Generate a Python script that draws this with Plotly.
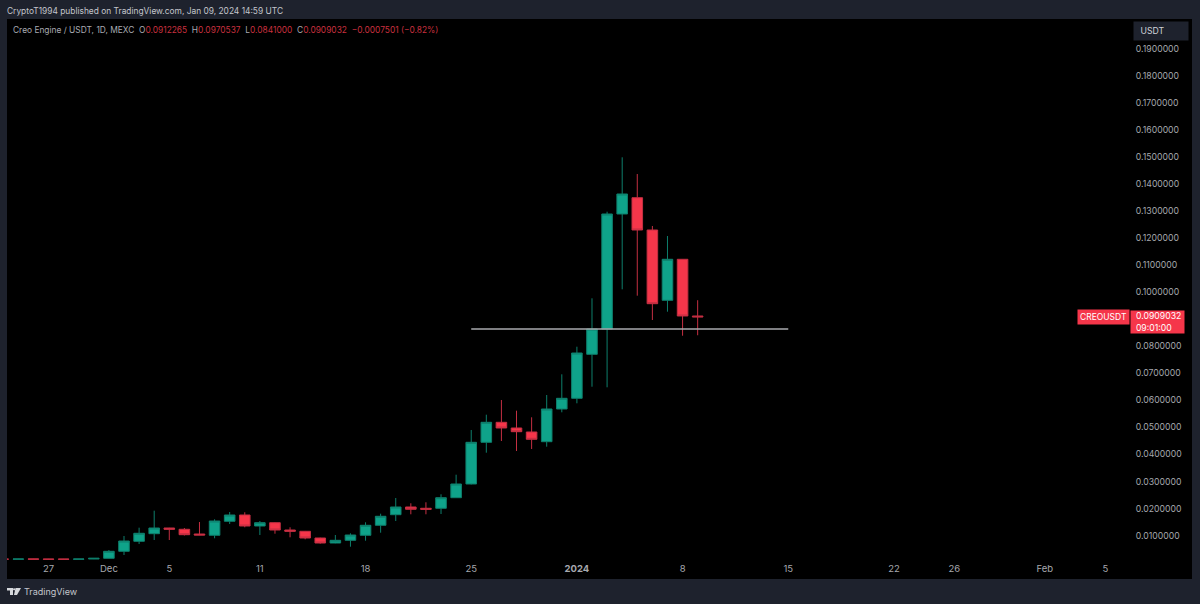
import plotly.graph_objects as go
import pandas as pd

# daily candles
dates = pd.date_range("2023-11-24", "2024-01-09", freq="D")
opens = [.00128, .00125, .00135, .00130, .00130, .00122, .00132, .00158, .00417, .00787, .01068,
         .01279, .01231, .01057, .01009, .01527, .01760, .01353, .01475, .01205, .01157,
         .00909, .00724, .00824, .01009, .01379, .01771, .02056, .02008, .02008, .02400,
         .02907, .04449, .05189, .04979, .04831, .04472, .05681, .06077, .07705, .08641,
         .12896, .13499, .12304, .09703, .11220, .0912265]
highs = [.00135, .00140, .00140, .00135, .00135, .00135, .00170, .00465, .00983, .01290, .01919,
         .01285, .01279, .01501, .01601, .01871, .01860, .01538, .01490, .01305, .01170,
         .00920, .01020, .01083, .01490, .01808, .02389, .02193, .02230, .02526, .03251,
         .04905, .05471, .06014, .05619, .05374, .06199, .06965, .07986, .09777, .12981,
         .14993, .14375, .12452, .12082, .11230, .0970537]
lows = [.00120, .00120, .00120, .00118, .00118, .00118, .00128, .00150, .00280, .00687, .00835,
        .00835, .01001, .01015, .00898, .01427, .01305, .01020, .01068, .00935, .00861,
        .00700, .00715, .00587, .00809, .01105, .01538, .01786, .01786, .01797, .02390,
        .02890, .04065, .04498, .04128, .04202, .04287, .05559, .05892, .06506, .06484,
        .10110, .09873, .08974, .09281, .08393, .0841000]
closes = [.00125, .00132, .00125, .00122, .00122, .00132, .00158, .00417, .00798, .01083, .01279,
          .01231, .01031, .01020, .01538, .01760, .01353, .01475, .01205, .01157, .00909,
          .00724, .00824, .01020, .01379, .01712, .02056, .01971, .01971, .02400, .02907,
          .04449, .05189, .04979, .04842, .04560, .05681, .06077, .07753, .08641, .12896,
          .13636, .12304, .09577, .11220, .0912265, .0909032]

# 0.09 sits behind the price tag
y_ticks = [.01, .02, .03, .04, .05, .06, .07, .08, .10, .11, .12, .13, .14, .15, .16, .17, .18, .19]
x_ticks = ["2023-11-27", "2023-12-01", "2023-12-05", "2023-12-11", "2023-12-18", "2023-12-25",
           "2024-01-01", "2024-01-08", "2024-01-15", "2024-01-22", "2024-01-26", "2024-02-01", "2024-02-05"]
x_labels = ["27", "Dec", "5", "11", "18", "25", "<b>2024</b>", "8", "15", "22", "26", "Feb", "5"]

level_x = ["2023-12-25", "2024-01-15"]
level_y = [.08641, .08641]

GREEN = "#0fa38a"
GREEN_WICK = "#0e7f6c"
RED = "#f5364a"
RED_WICK = "#c42f42"
BG = "#1e222d"
W, H = 1200, 604
L, R, T, B = 7, 1130, 19, 561


def px(x):
    return (x - L) / (R - L)


def py(y):
    return 1 - (y - T) / (B - T)


fig = go.Figure()
fig.add_trace(go.Candlestick(
    x=dates, open=opens, high=highs, low=lows, close=closes,
    increasing=dict(line=dict(color=GREEN_WICK, width=1), fillcolor=GREEN),
    decreasing=dict(line=dict(color=RED_WICK, width=1), fillcolor=RED),
    whiskerwidth=0, showlegend=False,
))
fig.add_trace(go.Scatter(x=level_x, y=level_y, mode="lines", showlegend=False,
                         line=dict(color="#a8aaae", width=1.5)))

# black chart frame reaches past the plot area (price scale + time scale)
fig.add_shape(type="rect", xref="paper", yref="paper", layer="below", line_width=0,
              fillcolor="#000000", x0=px(7), x1=px(1192), y0=py(579), y1=py(19))
# TradingView logo
logo = "M {} {} L {} {} L {} {} L {} {} L {} {} L {} {} Z".format(
    px(7), py(588), px(13), py(588), px(13), py(595), px(10), py(595), px(10), py(590.5), px(7), py(590.5))
logo2 = "M {} {} L {} {} L {} {} L {} {} Z".format(
    px(15.5), py(588), px(21), py(588), px(17), py(595), px(14), py(595))
for p in (logo, logo2):
    fig.add_shape(type="path", path=p, xref="paper", yref="paper", line_width=0, fillcolor="#d6d8dc")
fig.add_shape(type="circle", xref="paper", yref="paper", line_width=0, fillcolor="#d6d8dc",
              x0=px(13), x1=px(15.2), y0=py(590.5), y1=py(588.2))

font = "Inter"
hi = '<span style="color:#c9303f">{}</span>'


def text(x, y, s, size=8.4, color="#c4c6cc", anchor="left", **kw):
    fig.add_annotation(xref="paper", yref="paper", x=px(x), y=py(y), text=s, showarrow=False,
                       xanchor=anchor, yanchor="middle", align=anchor,
                       font=dict(family=font, size=size, color=color), **kw)


text(5, 11, "CryptoT1994 published on TradingView.com, Jan 09, 2024 14:59 UTC", size=8.4)
legend = ("Creo Engine / USDT, 1D, MEXC&nbsp;&nbsp;O" + hi.format("0.0912265")
          + "&nbsp;&nbsp;H" + hi.format("0.0970537") + "&nbsp;&nbsp;L" + hi.format("0.0841000")
          + "&nbsp;&nbsp;C" + hi.format("0.0909032") + "&nbsp;&nbsp;" + hi.format("−0.0007501 (−0.82%)"))
text(11, 30, legend, size=8.4, color="#a9abb2")
text(22, 591, "TradingView", size=9, color="#c4c6cc")

text(1133, 31, "&nbsp;USDT&nbsp;&nbsp;&nbsp;&nbsp;&nbsp;&nbsp;&nbsp;&nbsp;", size=8.7, color="#d0d2d8", bgcolor=BG, borderpad=4)
text(1077, 317, "CREOUSDT", size=8.5, color="#ffffff", bgcolor=RED, borderpad=2)
fig.add_annotation(xref="paper", yref="paper", x=px(1130), y=py(322), showarrow=False,
                   text="&nbsp;&nbsp;0.0909032<br>&nbsp;&nbsp;09:01:00", xanchor="left", yanchor="middle", align="left",
                   width=53, height=22, bgcolor=RED, borderpad=0,
                   font=dict(family=font, size=8.7, color="#ffffff"))

fig.update_layout(
    width=W, height=H, autosize=False,
    margin=dict(l=L, r=W - R, t=T, b=H - B, pad=0),
    paper_bgcolor=BG, plot_bgcolor="#000000",
    boxgap=0.0,
    font=dict(family=font, size=9, color="#a6a8ae"),
    xaxis=dict(type="date", range=["2023-11-24 06:00", "2024-02-06 15:18"],
               tickmode="array", tickvals=x_ticks, ticktext=x_labels,
               showgrid=False, zeroline=False, showline=False, ticks="", tickangle=0,
               rangeslider=dict(visible=False), tickfont=dict(size=9.5, color="#a6a8ae")),
    yaxis=dict(side="right", range=[.00058, .2011], tickmode="array", tickvals=y_ticks,
               tickformat=".7f", showgrid=False, zeroline=False, showline=False,
               ticks="outside", ticklen=3, tickcolor="rgba(0,0,0,0)",
               tickfont=dict(size=8.7, color="#a6a8ae")),
)

fig.write_html("out.html", post_script="document.body.style.margin='0';",
               config=dict(displayModeBar=False))
